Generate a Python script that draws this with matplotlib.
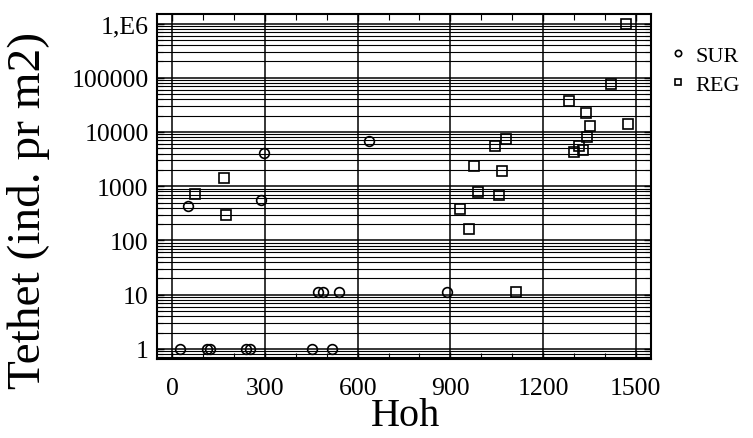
import matplotlib
matplotlib.use("Agg")
import matplotlib.pyplot as plt
from matplotlib.ticker import LogLocator, NullFormatter, MultipleLocator

plt.rcParams['font.family'] = ['Liberation Serif', 'DejaVu Serif']

# Data
sur_x = [23, 113, 122, 238, 250, 451, 517, 473, 487, 539, 889, 52, 287, 298, 636]
sur_y = [1, 1, 1, 1, 1, 1, 1, 11, 11, 11, 11, 424, 547, 4100, 6700]

reg_x = [73, 168, 174, 930, 962, 976, 991, 1046, 1057, 1068, 1079, 1113,
         1284, 1300, 1316, 1331, 1340, 1342, 1351, 1419, 1470, 1474]
reg_y = [705, 1435, 298, 384, 164, 2320, 780, 5500, 677, 1910, 7530, 11.4,
         36800, 4270, 5430, 4580, 22700, 8090, 12700, 78000, 1000000, 14260]

x_ticks = [0, 300, 600, 900, 1200, 1500]
y_ticks = [1, 10, 100, 1000, 10000, 100000, 1000000]
y_tick_labels = ['1', '10', '100', '1000', '10000', '100000', '1,E6']

fig = plt.figure(figsize=(7.53, 4.39), dpi=100)
ax = fig.add_axes([157/753, 1-360/439, 494/753, 345/439])

ax.set_yscale('log')
ax.set_xlim(-50, 1550)
ax.set_ylim(0.65, 1.5e6)

ax.set_xticks(x_ticks)
ax.set_xticklabels([str(v) for v in x_ticks])
ax.xaxis.set_minor_locator(MultipleLocator(100))
ax.set_yticks(y_ticks)
ax.set_yticklabels(y_tick_labels)
ax.yaxis.set_minor_locator(LogLocator(base=10, subs=range(2, 10), numticks=20))
ax.yaxis.set_minor_formatter(NullFormatter())

ax.grid(True, which='major', axis='both', color='black', linewidth=1.1)
ax.grid(True, which='minor', axis='y', color='black', linewidth=0.8)
ax.set_axisbelow(True)

ax.tick_params(axis='both', which='both', direction='in', top=True, right=True,
               labelsize=18.5)
ax.tick_params(axis='both', which='major', length=5, width=1)
ax.tick_params(axis='both', which='minor', length=4, width=0.8)
ax.tick_params(axis='y', which='major', pad=6)
ax.tick_params(axis='x', which='major', pad=13)

for s in ax.spines.values():
    s.set_linewidth(1.5)

ax.plot(sur_x, sur_y, linestyle='none', marker='o', markersize=7,
        markerfacecolor='none', markeredgecolor='black', markeredgewidth=1.2,
        label='SUR', zorder=3)
ax.plot(reg_x, reg_y, linestyle='none', marker='s', markersize=6.5,
        markerfacecolor='none', markeredgecolor='black', markeredgewidth=1.2,
        label='REG', zorder=3)

ax.set_xlabel('Hoh', fontsize=29)
ax.xaxis.label.set_verticalalignment('center')
ax.xaxis.set_label_coords((406-157)/494, (360-417)/345)

ax.set_ylabel('Tethet (ind. pr m2)', fontsize=34)
ax.yaxis.label.set_verticalalignment('center')
ax.yaxis.set_label_coords((29-157)/494, (360-210)/345)

leg = ax.legend(loc='upper left', bbox_to_anchor=(671/753, 1-46/439),
                bbox_transform=fig.transFigure, frameon=False, fontsize=16,
                markerscale=0.65, handlelength=0.6, handletextpad=0.5,
                labelspacing=0.4, borderaxespad=0, borderpad=0)

fig.savefig('out.png', dpi=100)
